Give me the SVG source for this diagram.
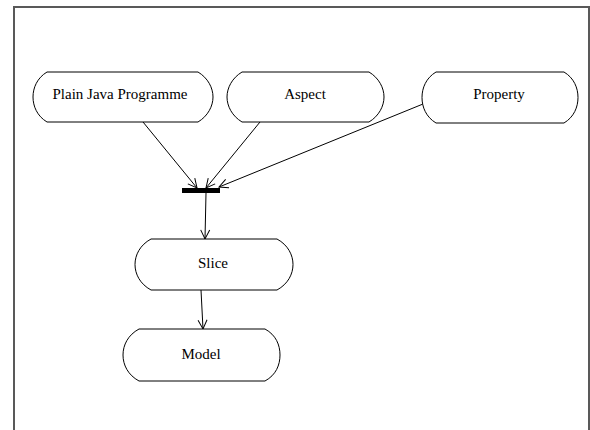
<svg xmlns="http://www.w3.org/2000/svg" width="590" height="430" viewBox="0 0 590 430">
<style>
.node path{fill:#fff;stroke:#000;stroke-width:1}
.node text{font-family:'Liberation Serif','Times New Roman','DejaVu Serif',serif;font-size:15px;fill:#000;text-anchor:middle}
.conn line{stroke:#000;stroke-width:1;marker-end:url(#arr)}
</style>
<defs>
<marker id="arr" markerUnits="userSpaceOnUse" markerWidth="12" markerHeight="12" refX="10" refY="5" orient="auto" overflow="visible">
<polyline points="1,0.5 10,5 1,9.5" fill="none" stroke="#000" stroke-width="1"/>
</marker>
</defs>
<rect x="0" y="0" width="590" height="430" fill="#fff"/>
<rect x="14" y="7" width="575" height="440" fill="none" stroke="#595959" stroke-width="2"/>
<g class="conn">
<line x1="143" y1="122" x2="197" y2="188"/>
<line x1="260" y1="122" x2="206" y2="188"/>
<line x1="423" y1="104" x2="219" y2="187"/>
<line x1="206" y1="193" x2="205" y2="239"/>
<line x1="201" y1="290" x2="203" y2="329"/>
</g>
<g id="sync"><rect x="182" y="188" width="38" height="5" fill="#000"/></g>
<g id="plain" class="node">
<path d="M47,72 H198 C208,78 213,88 213,97 C213,106 208,116 198,122 H47 C37,116 33,106 33,97 C33,88 37,78 47,72 Z"/>
<text x="120" y="99" font-family="Liberation Serif, serif">Plain Java Programme</text>
</g>
<g id="aspect" class="node">
<path d="M242,72 H369 C379,78 384,88 384,97 C384,106 379,116 369,122 H242 C232,116 227,106 227,97 C227,88 232,78 242,72 Z"/>
<text x="305" y="99">Aspect</text>
</g>
<g id="property" class="node">
<path d="M436,72 H564 C574,78 578,88 578,97.5 C578,107 574,117 564,123 H436 C426,117 422,107 422,97.5 C422,88 426,78 436,72 Z"/>
<text x="499" y="99">Property</text>
</g>
<g id="slice" class="node">
<path d="M151,239 H277 C288,245 293,255 293,264.5 C293,274 288,284 277,290 H151 C140,284 135,274 135,264.5 C135,255 140,245 151,239 Z"/>
<text x="213" y="268">Slice</text>
</g>
<g id="model" class="node">
<path d="M139,329 H265 C276,335 280,345 280,355 C280,365 276,375 265,381 H139 C128,375 123,365 123,355 C123,345 128,335 139,329 Z"/>
<text x="201" y="359">Model</text>
</g>
</svg>
